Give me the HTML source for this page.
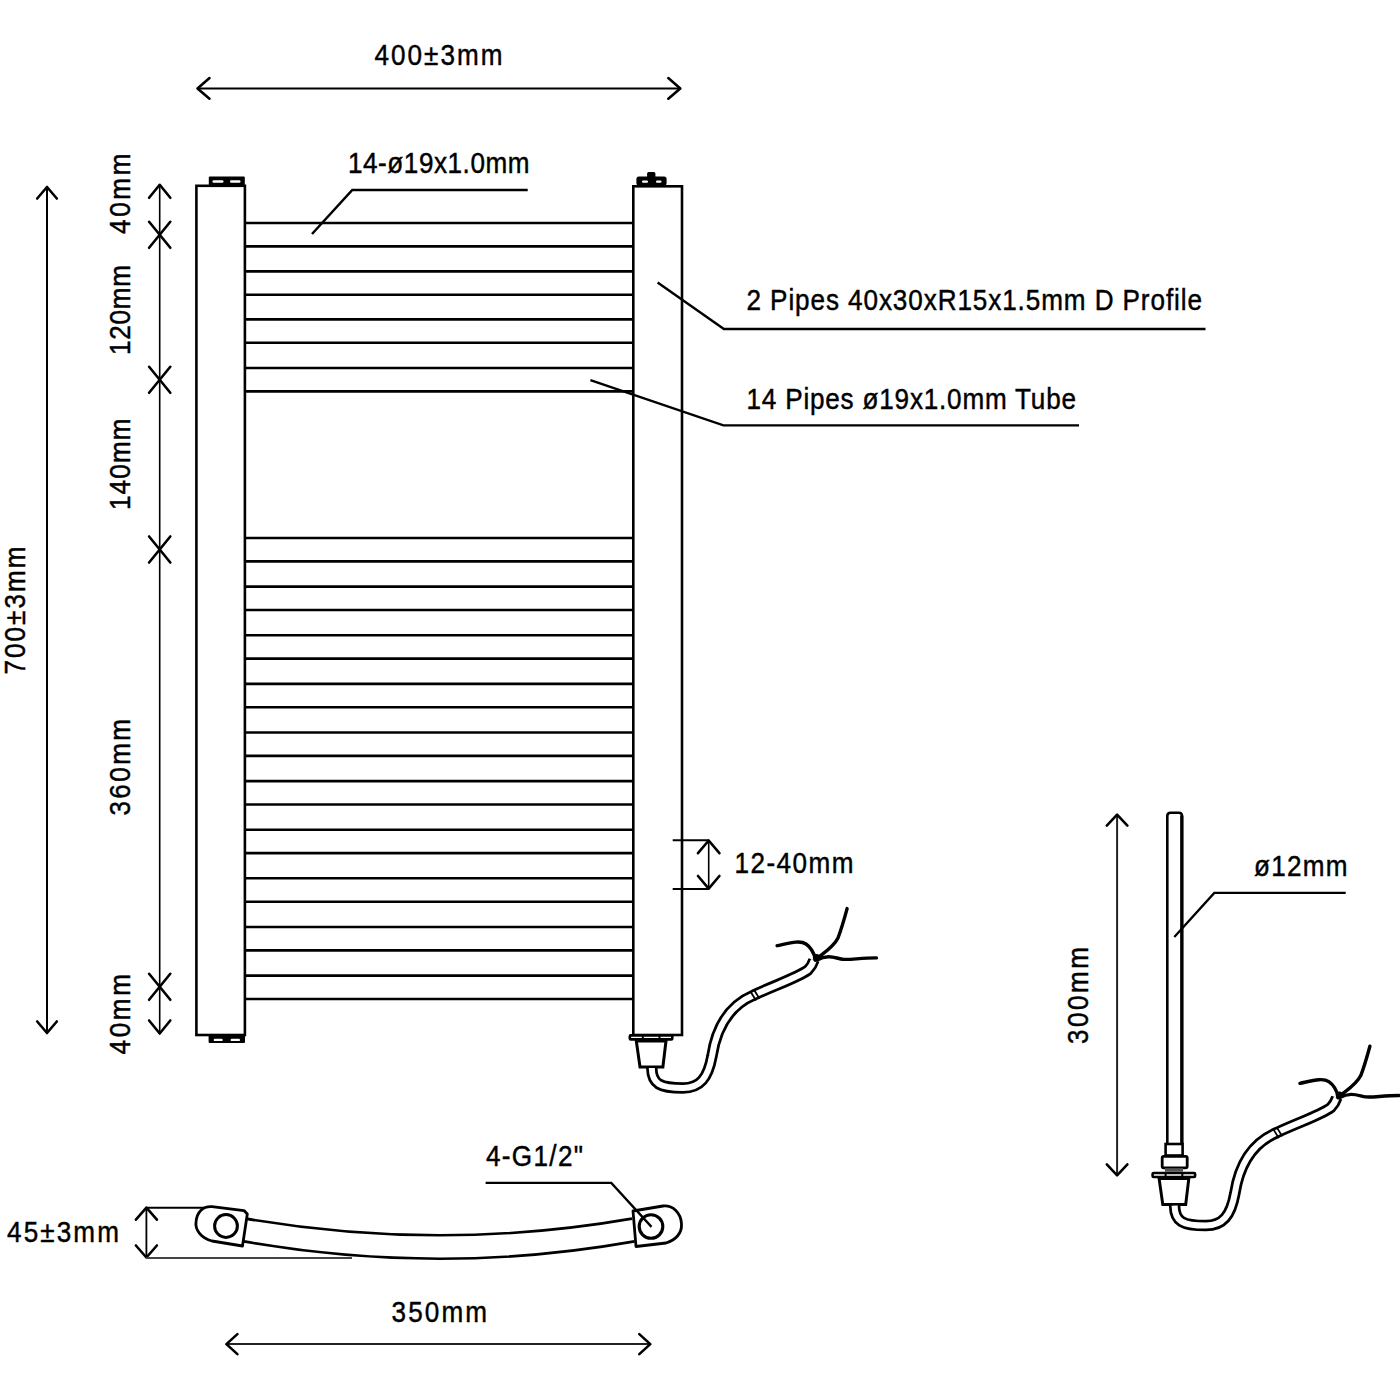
<!DOCTYPE html>
<html><head><meta charset="utf-8"><style>
html,body{margin:0;padding:0;background:#fff;}
svg{display:block;}
svg{stroke:#000;}
.ah{fill:none;stroke-linecap:round;stroke-linejoin:round;}
text{font-family:"Liberation Sans", sans-serif;fill:#000;stroke:#000;stroke-width:0.45px;}
</style></head><body>
<svg width="1400" height="1400" viewBox="0 0 1400 1400">
<rect x="0" y="0" width="1400" height="1400" fill="#fff" stroke="none"/>
<line x1="198" y1="88.4" x2="680" y2="88.4" stroke-width="2"/>
<path d="M209.5,78.10000000000001 L197.5,88.4 L209.5,98.7" class="ah" stroke-width="2.6"/>
<path d="M668.3,78.10000000000001 L680.3,88.4 L668.3,98.7" class="ah" stroke-width="2.6"/>
<text transform="translate(374.5,65) scale(0.9,1)" font-size="29" textLength="142.22" lengthAdjust="spacing" >400±3mm</text>
<line x1="47" y1="188" x2="47" y2="1032" stroke-width="2"/>
<path d="M37.2,198.5 L47,187 L56.8,198.5" class="ah" stroke-width="2.6"/>
<path d="M37.2,1021.5 L47,1033 L56.8,1021.5" class="ah" stroke-width="2.6"/>
<text transform="translate(24.8,674.5) rotate(-90) scale(0.9,1)" font-size="29" textLength="142.22" lengthAdjust="spacing">700±3mm</text>
<line x1="159.7" y1="185" x2="159.7" y2="1033" stroke-width="1.6"/>
<path d="M149.1,197.8 L159.7,184.8 L170.29999999999998,197.8" class="ah" stroke-width="2.6"/>
<path d="M149.1,1020.5 L159.7,1033.5 L170.29999999999998,1020.5" class="ah" stroke-width="2.6"/>
<path d="M149.1,221.8 L159.7,234.8 L170.29999999999998,221.8" class="ah" stroke-width="2.6"/>
<path d="M149.1,247.8 L159.7,234.8 L170.29999999999998,247.8" class="ah" stroke-width="2.6"/>
<path d="M149.1,366.8 L159.7,379.8 L170.29999999999998,366.8" class="ah" stroke-width="2.6"/>
<path d="M149.1,392.8 L159.7,379.8 L170.29999999999998,392.8" class="ah" stroke-width="2.6"/>
<path d="M149.1,536.5 L159.7,549.5 L170.29999999999998,536.5" class="ah" stroke-width="2.6"/>
<path d="M149.1,562.5 L159.7,549.5 L170.29999999999998,562.5" class="ah" stroke-width="2.6"/>
<path d="M149.1,973.8 L159.7,986.8 L170.29999999999998,973.8" class="ah" stroke-width="2.6"/>
<path d="M149.1,999.8 L159.7,986.8 L170.29999999999998,999.8" class="ah" stroke-width="2.6"/>
<text transform="translate(130,234) rotate(-90) scale(0.9,1)" font-size="29" textLength="89.44" lengthAdjust="spacing">40mm</text>
<text transform="translate(130,355) rotate(-90) scale(0.9,1)" font-size="29" textLength="100.00" lengthAdjust="spacing">120mm</text>
<text transform="translate(130,510) rotate(-90) scale(0.9,1)" font-size="29" textLength="101.67" lengthAdjust="spacing">140mm</text>
<text transform="translate(130,815.5) rotate(-90) scale(0.9,1)" font-size="29" textLength="107.22" lengthAdjust="spacing">360mm</text>
<text transform="translate(129.8,1054.5) rotate(-90) scale(0.9,1)" font-size="29" textLength="89.44" lengthAdjust="spacing">40mm</text>
<rect x="196.4" y="185.8" width="48.5" height="849.2" stroke-width="2.6" fill="#fff"/>
<rect x="633.3" y="186.3" width="48.7" height="848.7" stroke-width="2.6" fill="#fff"/>
<line x1="245" y1="223.0" x2="633.5" y2="223.0" stroke-width="2.6"/>
<line x1="245" y1="246.4" x2="633.5" y2="246.4" stroke-width="2.6"/>
<line x1="245" y1="271.4" x2="633.5" y2="271.4" stroke-width="2.6"/>
<line x1="245" y1="294.8" x2="633.5" y2="294.8" stroke-width="2.6"/>
<line x1="245" y1="319.4" x2="633.5" y2="319.4" stroke-width="2.6"/>
<line x1="245" y1="342.8" x2="633.5" y2="342.8" stroke-width="2.6"/>
<line x1="245" y1="368.0" x2="633.5" y2="368.0" stroke-width="2.6"/>
<line x1="245" y1="391.4" x2="633.5" y2="391.4" stroke-width="2.6"/>
<line x1="245" y1="538.0" x2="633.5" y2="538.0" stroke-width="2.6"/>
<line x1="245" y1="561.4" x2="633.5" y2="561.4" stroke-width="2.6"/>
<line x1="245" y1="586.6" x2="633.5" y2="586.6" stroke-width="2.6"/>
<line x1="245" y1="610.0" x2="633.5" y2="610.0" stroke-width="2.6"/>
<line x1="245" y1="635.2" x2="633.5" y2="635.2" stroke-width="2.6"/>
<line x1="245" y1="658.6" x2="633.5" y2="658.6" stroke-width="2.6"/>
<line x1="245" y1="683.9" x2="633.5" y2="683.9" stroke-width="2.6"/>
<line x1="245" y1="707.3" x2="633.5" y2="707.3" stroke-width="2.6"/>
<line x1="245" y1="732.5" x2="633.5" y2="732.5" stroke-width="2.6"/>
<line x1="245" y1="755.9" x2="633.5" y2="755.9" stroke-width="2.6"/>
<line x1="245" y1="781.1" x2="633.5" y2="781.1" stroke-width="2.6"/>
<line x1="245" y1="804.5" x2="633.5" y2="804.5" stroke-width="2.6"/>
<line x1="245" y1="829.7" x2="633.5" y2="829.7" stroke-width="2.6"/>
<line x1="245" y1="853.1" x2="633.5" y2="853.1" stroke-width="2.6"/>
<line x1="245" y1="878.3" x2="633.5" y2="878.3" stroke-width="2.6"/>
<line x1="245" y1="901.7" x2="633.5" y2="901.7" stroke-width="2.6"/>
<line x1="245" y1="927.0" x2="633.5" y2="927.0" stroke-width="2.6"/>
<line x1="245" y1="950.4" x2="633.5" y2="950.4" stroke-width="2.6"/>
<line x1="245" y1="975.6" x2="633.5" y2="975.6" stroke-width="2.6"/>
<line x1="245" y1="999.0" x2="633.5" y2="999.0" stroke-width="2.6"/>
<rect x="208.8" y="176.4" width="36" height="9" fill="#000" stroke="none" rx="1"/>
<rect x="212.5" y="180.3" width="11" height="2.4" rx="1.2" fill="#fff" stroke="none"/>
<rect x="230" y="180.3" width="10.5" height="2.4" rx="1.2" fill="#fff" stroke="none"/>
<rect x="208.6" y="1034" width="36.4" height="9" fill="#000" stroke="none" rx="1"/>
<rect x="213.7" y="1038.7" width="9" height="2.4" rx="1.2" fill="#fff" stroke="none"/>
<rect x="230.6" y="1038.7" width="9.4" height="2.4" rx="1.2" fill="#fff" stroke="none"/>
<rect x="636.4" y="176.5" width="30.2" height="9" fill="#000" stroke="none" rx="2.5"/>
<rect x="647.1" y="172" width="8.3" height="8" fill="#000" stroke="none" rx="1.5"/>
<rect x="642" y="180.6" width="6" height="2.2" rx="1.1" fill="#fff" stroke="none"/>
<rect x="656" y="180.6" width="5.5" height="2.2" rx="1.1" fill="#fff" stroke="none"/>
<path d="M312,234 L352.3,190 L527.7,190" stroke-width="2.5" fill="none"/>
<text transform="translate(348,173.4) scale(0.9,1)" font-size="29" textLength="201.67" lengthAdjust="spacing" >14-ø19x1.0mm</text>
<path d="M657.6,282.4 L723.9,329 L1205.5,329" stroke-width="2.4" fill="none"/>
<text transform="translate(746.5,310.4) scale(0.9,1)" font-size="29" textLength="506.11" lengthAdjust="spacing" fill="#1a1a1a">2 Pipes 40x30xR15x1.5mm D Profile</text>
<path d="M590.4,380.1 L723.4,425.4 L1079,425.4" stroke-width="2.4" fill="none"/>
<text transform="translate(746.5,408.8) scale(0.9,1)" font-size="29" textLength="366.11" lengthAdjust="spacing" fill="#1a1a1a">14 Pipes ø19x1.0mm Tube</text>
<line x1="672.7" y1="840.2" x2="708.5" y2="840.2" stroke-width="1.9"/>
<line x1="672.7" y1="889" x2="708.5" y2="889" stroke-width="1.9"/>
<line x1="708.7" y1="841" x2="708.7" y2="888" stroke-width="1.6"/>
<path d="M698.0,853.2 L708.7,840.5 L719.4000000000001,853.2" class="ah" stroke-width="2.6"/>
<path d="M698.0,876.0 L708.7,888.7 L719.4000000000001,876.0" class="ah" stroke-width="2.6"/>
<text transform="translate(734.5,873.2) scale(0.9,1)" font-size="29" textLength="132.22" lengthAdjust="spacing" >12-40mm</text>
<g id="heater"><rect x="629.8" y="1035.4" width="42.5" height="4" rx="1" stroke-width="2.6" fill="#fff"/>
<line x1="642.8" y1="1035" x2="642.8" y2="1040" stroke-width="2"/>
<line x1="659.5" y1="1035" x2="659.5" y2="1040" stroke-width="2"/>
<path d="M636.3,1041 L666,1041 L662.9,1067 L640,1067 Z" stroke-width="3" fill="#fff"/>
<path d="M651.8,1068 C652,1084 660,1088 683,1088 C700,1088 708,1078 712,1056 C716,1030 728,1006 754,995 C775,985 797,978 808,970 C812,966 813,963 814,960" stroke-width="11.5" fill="none" stroke-linecap="butt"/>
<path d="M651.8,1068 C652,1084 660,1088 683,1088 C700,1088 708,1078 712,1056 C716,1030 728,1006 754,995 C775,985 797,978 808,970 C812,966 813,963 814,960" stroke="#fff" stroke-width="6" fill="none" stroke-linecap="butt"/>
<line x1="750.5" y1="991.5" x2="756" y2="1000.5" stroke-width="1.8"/>
<line x1="754" y1="989.8" x2="759.5" y2="998.8" stroke-width="1.8"/>
<circle cx="816.5" cy="957.5" r="3.6" fill="#000" stroke="none"/>
<path d="M777.1,945.7 C790,943 800,940 806,944 C812,948 814,953 815.7,960" stroke-width="3.4" fill="none" stroke-linecap="round"/>
<path d="M847.1,908.6 C844,920 841,930 838,938 C833,948 823,953 815,960" stroke-width="3.4" fill="none" stroke-linecap="round"/>
<path d="M876.4,957.9 C860,958 850,960 842.9,959.3 C835,958 828,954 817,960" stroke-width="3.4" fill="none" stroke-linecap="round"/></g>
<use href="#heater" transform="translate(522.8,137.6)"/>
<path d="M1167.3,1144 L1167.3,816 Q1167.3,812.8 1170.5,812.8 L1179,812.8 Q1182,812.8 1182,816 L1182,1144" stroke-width="2.6" fill="#fff"/>
<line x1="1181.8" y1="815.5" x2="1181.8" y2="1144" stroke-width="3.2"/>
<rect x="1165.6" y="1144" width="17" height="11.5" stroke-width="2.6" fill="#fff"/>
<rect x="1162.2" y="1156.3" width="25" height="11.5" rx="1.5" stroke-width="2.8" fill="#fff"/>
<rect x="1165" y="1168.2" width="18" height="3.6" fill="#555" stroke="none"/>
<line x1="1117.1" y1="815.5" x2="1117.1" y2="1174.5" stroke-width="2" stroke="#222"/>
<path d="M1106.8,825.6 L1117.1,814.6 L1127.3999999999999,825.6" class="ah" stroke-width="2.6"/>
<path d="M1106.8,1164.4 L1117.1,1175.4 L1127.3999999999999,1164.4" class="ah" stroke-width="2.6"/>
<text transform="translate(1088.1,1044) rotate(-90) scale(0.9,1)" font-size="29" textLength="107.78" lengthAdjust="spacing">300mm</text>
<path d="M1174.3,937.1 L1214.3,892.9 L1345.7,892.9" stroke-width="2.3" fill="none"/>
<text transform="translate(1254,876) scale(0.9,1)" font-size="29" textLength="103.89" lengthAdjust="spacing" >ø12mm</text>
<line x1="146.4" y1="1208.5" x2="146.4" y2="1257" stroke-width="1.8"/>
<path d="M135.9,1219.7 L146.4,1207.7 L156.9,1219.7" class="ah" stroke-width="2.6"/>
<path d="M135.9,1245.5 L146.4,1257.5 L156.9,1245.5" class="ah" stroke-width="2.6"/>
<line x1="146" y1="1207.7" x2="206" y2="1207.7" stroke-width="2"/>
<line x1="146" y1="1258" x2="352" y2="1258" stroke-width="2" stroke="#444"/>
<text transform="translate(7,1242.3) scale(0.9,1)" font-size="29" textLength="124.44" lengthAdjust="spacing" >45±3mm</text>
<path d="M245.7,1218.6 Q440,1252 632,1218.6" stroke-width="2.6" fill="none"/>
<path d="M244,1241.4 Q440,1276 634.5,1241.4" stroke-width="2.6" fill="none"/>
<path d="M247.3,1214 L242.5,1246 L212,1241 C201,1238 195,1230 196,1222 C197,1212 203,1206 212,1206.7 L244,1210.6 Z" stroke-width="2.8" fill="#fff" stroke-linejoin="round"/>
<circle cx="226" cy="1226" r="11.4" stroke-width="3" fill="none"/>
<path d="M633,1211 L636,1246.5 L666,1243 C676,1240 682,1233 681.5,1224 C681,1213 673,1205 663,1206 Z" stroke-width="2.8" fill="#fff" stroke-linejoin="round"/>
<circle cx="651" cy="1226.5" r="11.8" stroke-width="3.1" fill="none"/>
<path d="M485.6,1182.9 L611.3,1182.9 L651.5,1226.9" stroke-width="2.3" fill="none"/>
<text transform="translate(486,1166.1) scale(0.9,1)" font-size="29" textLength="107.78" lengthAdjust="spacing" >4-G1/2"</text>
<line x1="227" y1="1344.1" x2="650" y2="1344.1" stroke-width="2" stroke="#222"/>
<path d="M237.4,1334.1 L226.4,1344.1 L237.4,1354.1" class="ah" stroke-width="2.6"/>
<path d="M639.3,1334.1 L650.3,1344.1 L639.3,1354.1" class="ah" stroke-width="2.6"/>
<text transform="translate(391.5,1322) scale(0.9,1)" font-size="29" textLength="106.11" lengthAdjust="spacing" >350mm</text>
</svg>
</body></html>
